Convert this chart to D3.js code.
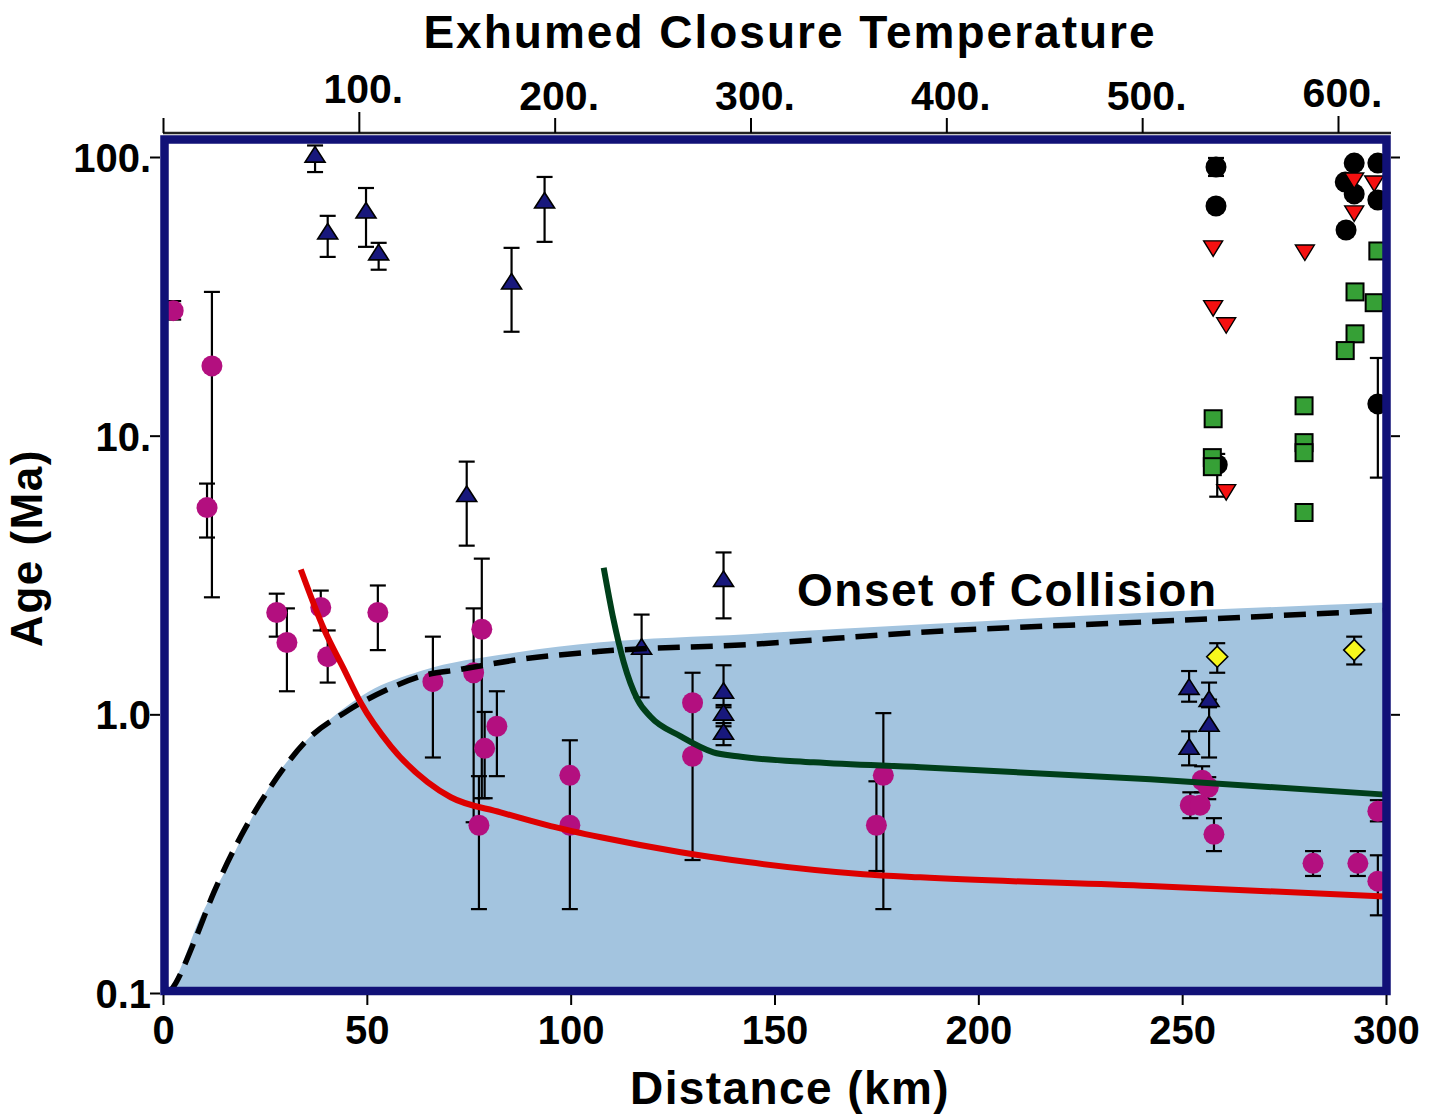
<!DOCTYPE html>
<html><head><meta charset="utf-8">
<script src="https://cdn.jsdelivr.net/npm/d3@7"></script>
<style>
body{margin:0;background:#fff}
svg{display:block}
text{font-family:"Liberation Sans",Arial,sans-serif;font-weight:bold;fill:#000}
</style>
</head><body>
<svg id="chart" width="1431" height="1117"></svg>
<script>
// ---------- axis ticks ----------
const distanceTicks = [0, 50, 100, 150, 200, 250, 300];
const ageTicks = [0.1, 1, 10, 100];
const ageTickLabels = ["0.1", "1.0", "10.", "100."];
const tempTicks = [0, 100, 200, 300, 400, 500, 600];
const tempTickLabels = ["", "100.", "200.", "300.", "400.", "500.", "600."];

// ---------- curves: [distance km, age Ma] ----------
const collisionShade = [[0,0.1],[2.0,0.106],[9.3,0.189],[15.9,0.285],[21.6,0.42],[27.2,0.585],[33.8,0.768],[41.9,0.984],[50.2,1.2],[63.2,1.43],[87,1.67],[106.6,1.81],[143.4,1.94],[185.8,2.1],[242.2,2.32],[300,2.52]];
const collisionOnset = [[1.5,0.1],[3.2,0.109],[7.6,0.152],[12.5,0.23],[19.1,0.365],[26.5,0.552],[35.5,0.813],[45.3,1.03],[55.1,1.23],[63.2,1.37],[73,1.45],[87,1.57],[106.6,1.68],[143.4,1.78],[185.8,1.97],[242.2,2.15],[300,2.36]];
const redCurve = [[33.8,3.31],[39.5,2.02],[44.4,1.45],[48.5,1.1],[55.9,0.768],[64.9,0.571],[70.6,0.504],[82.8,0.445],[95.1,0.397],[107.4,0.362],[127,0.32],[143.4,0.295],[171.8,0.267],[185.8,0.26],[242.2,0.242],[300,0.222]];
const greenCurve = [[108.1,3.36],[110.5,2.19],[113,1.54],[116.4,1.13],[119.6,0.98],[127,0.834],[135,0.731],[140.9,0.707],[159.6,0.673],[185.8,0.646],[242.2,0.585],[300,0.515]];

// ---------- points: [distance, age, errHigh, errLow] ----------
const magentaPts = [
 [2.5,28.1,30.4,26.1],[12.0,17.8,32.8,2.63],[10.8,5.52,6.73,4.31],[27.9,2.32,2.71,1.90],
 [30.4,1.81,2.40,1.21],[38.7,2.42,2.78,2.00],[40.4,1.61,2.00,1.30],[52.7,2.32,2.90,1.70],
 [66.2,1.31,1.90,0.70],[76.2,1.41,2.40,0.41],[78.2,2.02,3.62,0.50],[78.9,0.755,1.02,0.50],
 [81.9,0.906,1.21,0.60],[77.5,0.40,0.60,0.20],[99.8,0.604,0.807,0.41],[99.8,0.40,0.41,0.20],
 [129.9,1.10,1.41,0.30],[129.9,0.707,null,null],[176.7,0.604,1.01,0.20],[175.0,0.40,0.575,0.274],
 [254.9,0.580,0.651,0.525],[256.4,0.547,0.595,0.496],[252.0,0.472,0.525,0.424],[254.4,0.472,null,null],
 [257.8,0.371,0.424,0.323],[282.1,0.292,0.323,0.263],[293.1,0.292,0.323,0.263],
 [298.0,0.449,0.492,0.413],[298.0,0.252,0.312,0.190]
];
const navyTriPts = [
 [37.3,101.6,110,88.3],[40.4,53.8,61.5,43.8],[49.8,64.0,77.4,47.6],[52.9,45.3,49.2,39.4],
 [85.5,35.6,47.2,23.6],[93.6,69.5,84.8,49.6],[74.5,6.15,8.07,4.03],[137.5,3.05,3.81,2.21],
 [117.4,1.74,2.28,1.15],[137.5,1.21,1.50,1.08],[137.5,1.01,1.06,0.93],[137.5,0.862,0.906,0.775],
 [251.7,1.25,1.43,1.11],[256.6,1.13,1.30,1.06],[256.6,0.921,1.13,0.70],[251.7,0.762,0.869,0.656]
];
const blackPts = [
 [258.3,92.1,99.2,85.5],[258.3,66.7,null,null],[292.2,95.1,null,null],[298.0,95.1,null,null],
 [290.0,81.3,null,null],[292.2,73.7,null,null],[298.0,70.1,null,null],[290.2,54.7,null,null],
 [298.0,13.0,19.0,7.07],[258.6,7.87,8.6,6.04]
];
const redTriPts = [
 [257.6,47.2],[280.1,45.6],[257.6,28.8],[260.8,25.0],[260.8,6.30],[292.2,82.7],[297.1,80.7],[292.2,63.0]
];
const greenSqPts = [
 [257.6,11.5],[257.4,8.34],[257.4,7.74],[279.9,12.8],[279.9,9.44],[279.9,8.69],[279.9,5.30],
 [298.0,46.0],[292.4,32.8],[297.1,30.0],[292.4,23.2],[290.0,20.2]
];
const yellowPts = [[258.6,1.61,1.80,1.41],[292.2,1.70,1.90,1.51]];

// ---------- scales ----------
const svg = d3.select("#chart");
const x = d3.scaleLinear().domain([0,300]).range([163,1386]);
const y = d3.scaleLog().domain([0.1,100]).range([993,157]);
const tScale = d3.scaleLinear().domain([0,600]).range([163,1338]);

const NAVY = "#111177";

svg.append("defs").append("clipPath").attr("id","plotclip")
  .append("rect").attr("x",164).attr("y",140).attr("width",1222).attr("height",851);

const plot = svg.append("g").attr("clip-path","url(#plotclip)");

// shaded region
const area = d3.area().x(d=>x(d[0])).y0(y(0.1)+5).y1(d=>y(d[1])).curve(d3.curveMonotoneX);
plot.append("path").datum(collisionShade).attr("d",area).attr("fill","#a3c4df");

// error bars helper
function errBars(g, data){
  const eb = g.append("g").attr("stroke","#000").attr("stroke-width",2.2).attr("fill","none");
  data.filter(d=>d[2]!=null).forEach(d=>{
    const cx = x(d[0]);
    eb.append("line").attr("x1",cx).attr("x2",cx).attr("y1",y(d[2])).attr("y2",y(d[3]));
    eb.append("line").attr("x1",cx-8).attr("x2",cx+8).attr("y1",y(d[2])).attr("y2",y(d[2]));
    eb.append("line").attr("x1",cx-8).attr("x2",cx+8).attr("y1",y(d[3])).attr("y2",y(d[3]));
  });
}

// magenta circles
errBars(plot, magentaPts);
plot.append("g").selectAll("circle").data(magentaPts).join("circle")
  .attr("cx",d=>x(d[0])).attr("cy",d=>y(d[1])).attr("r",10.5).attr("fill","#b30f7f");

// navy triangles
errBars(plot, navyTriPts);
plot.append("g").selectAll("path").data(navyTriPts).join("path")
  .attr("transform",d=>`translate(${x(d[0])},${y(d[1])})`)
  .attr("d","M0,-8.5L10,7L-10,7Z").attr("fill","#18187c").attr("stroke","#000").attr("stroke-width",1.6);

// black circles
errBars(plot, blackPts);
plot.append("g").selectAll("circle").data(blackPts).join("circle")
  .attr("cx",d=>x(d[0])).attr("cy",d=>y(d[1])).attr("r",10.5).attr("fill","#000");

// red down triangles
plot.append("g").selectAll("path").data(redTriPts).join("path")
  .attr("transform",d=>`translate(${x(d[0])},${y(d[1])})`)
  .attr("d","M-9.5,-7L9.5,-7L0,8.5Z").attr("fill","#f51010").attr("stroke","#000").attr("stroke-width",1.4);

// green squares
plot.append("g").selectAll("rect").data(greenSqPts).join("rect")
  .attr("x",d=>x(d[0])-8.5).attr("y",d=>y(d[1])-8.5).attr("width",17).attr("height",17)
  .attr("fill","#36a036").attr("stroke","#000").attr("stroke-width",2);

// yellow diamonds
errBars(plot, yellowPts);
plot.append("g").selectAll("path").data(yellowPts).join("path")
  .attr("transform",d=>`translate(${x(d[0])},${y(d[1])})`)
  .attr("d","M0,-10.5L10.5,0L0,10.5L-10.5,0Z").attr("fill","#f7f71c").attr("stroke","#000").attr("stroke-width",1.6);

// curves
const line = d3.line().x(d=>x(d[0])).y(d=>y(d[1])).curve(d3.curveMonotoneX);
plot.append("path").datum(collisionOnset).attr("d",line).attr("fill","none")
  .attr("stroke","#000").attr("stroke-width",5.5).attr("stroke-dasharray","22,11");
plot.append("path").datum(redCurve).attr("d",line).attr("fill","none")
  .attr("stroke","#dd0000").attr("stroke-width",6);
plot.append("path").datum(greenCurve).attr("d",line).attr("fill","none")
  .attr("stroke","#003f1a").attr("stroke-width",6);

// frame
svg.append("rect").attr("x",164.5).attr("y",139.5).attr("width",1222).attr("height",851.5)
  .attr("fill","none").attr("stroke",NAVY).attr("stroke-width",8.5);

// ---------- axes ----------
const fontAxis = "40px";
const leftAx = svg.append("g").attr("transform","translate(160,0)")
  .call(d3.axisLeft(y).tickValues(ageTicks).tickFormat((d,i)=>ageTickLabels[i]).tickSize(10).tickPadding(0));
leftAx.select(".domain").remove();
leftAx.selectAll("line").attr("stroke","#000").attr("stroke-width",2);
leftAx.selectAll("text").attr("x",-9).attr("dy","0.36em").style("font-size",fontAxis).style("font-family",null);

const rightAx = svg.append("g").attr("transform","translate(1391,0)")
  .call(d3.axisRight(y).tickValues(ageTicks.slice(1)).tickFormat("").tickSize(9));
rightAx.select(".domain").remove();
rightAx.selectAll("line").attr("stroke","#000").attr("stroke-width",2);

const bottomAx = svg.append("g").attr("transform","translate(0,995)")
  .call(d3.axisBottom(x).tickValues(distanceTicks).tickSize(10));
bottomAx.select(".domain").remove();
bottomAx.selectAll("line").attr("stroke","#000").attr("stroke-width",2);
bottomAx.selectAll("text").attr("y",49).attr("dy",0).style("font-size",fontAxis).style("font-family",null);

const topAx = svg.append("g").attr("transform","translate(0,133)")
  .call(d3.axisTop(tScale).tickValues(tempTicks).tickFormat((d,i)=>tempTickLabels[i]).tickSize(15).tickSizeOuter(0));
topAx.select(".domain").attr("d",`M${x(0)},0H${x(300)+5}`).attr("stroke","#222").attr("stroke-width",2.5);
topAx.selectAll(".tick line").attr("stroke","#000").attr("stroke-width",2)
  .attr("y2",d=>d===100?-21:(d===600?-17:-15));
topAx.selectAll("text").attr("x",4).attr("y",d=>d===100?-30:(d===600?-26:-23)).attr("dy",0)
  .style("font-size","41px").style("font-family",null);

// ---------- titles ----------
svg.append("text").attr("x",790).attr("y",48).attr("text-anchor","middle")
  .style("font-size","46px").style("letter-spacing","2px").text("Exhumed Closure Temperature");
svg.append("text").attr("x",790).attr("y",1104).attr("text-anchor","middle")
  .style("font-size","46px").style("letter-spacing","1.4px").text("Distance (km)");
svg.append("text").attr("transform","translate(42,548) rotate(-90)").attr("text-anchor","middle")
  .style("font-size","44px").style("letter-spacing","1.5px").text("Age (Ma)");
svg.append("text").attr("x",797).attr("y",606)
  .style("font-size","46px").style("letter-spacing","1.5px").text("Onset of Collision");
</script>
</body></html>
